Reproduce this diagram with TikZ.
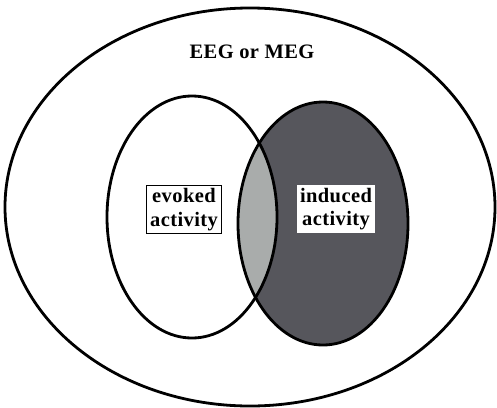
\documentclass[tikz,border=0pt]{standalone}
\usepackage{fontspec}
\setmainfont{Liberation Serif}[LetterSpace=2]
\definecolor{darkfill}{HTML}{56565C}
\definecolor{lightfill}{HTML}{A9ACAB}
\begin{document}
\begin{tikzpicture}[x=1pt,y=-1pt,
  ring/.style={draw=black,line width=2.8pt},
  lbl/.style={font=\bfseries\fontsize{20.5}{23.5}\selectfont,align=center,inner sep=2pt},
  boxlbl/.style={lbl,draw=black,line width=0.6pt,fill=white,inner xsep=3.5pt,inner ysep=3pt}]
\useasboundingbox (0,0) rectangle (497,407);
% outer
\draw[ring] (250,207) ellipse [x radius=245, y radius=199];
% right filled
\fill[darkfill] (323,223.5) ellipse [x radius=85, y radius=121.5];
\begin{scope}
  \clip (192,217) ellipse [x radius=85, y radius=121];
  \fill[lightfill] (323,223.5) ellipse [x radius=85, y radius=121.5];
\end{scope}
\draw[ring] (192,217) ellipse [x radius=85, y radius=121];
\draw[ring] (323,223.5) ellipse [x radius=85, y radius=121.5];
\node[lbl] (title) at (252,52) {EEG or MEG};
\node[boxlbl] (evoked) at (184,209.5) {evoked\\activity};
\node[boxlbl,draw=none] (induced) at (336,209) {induced\\activity};
\end{tikzpicture}
\end{document}
